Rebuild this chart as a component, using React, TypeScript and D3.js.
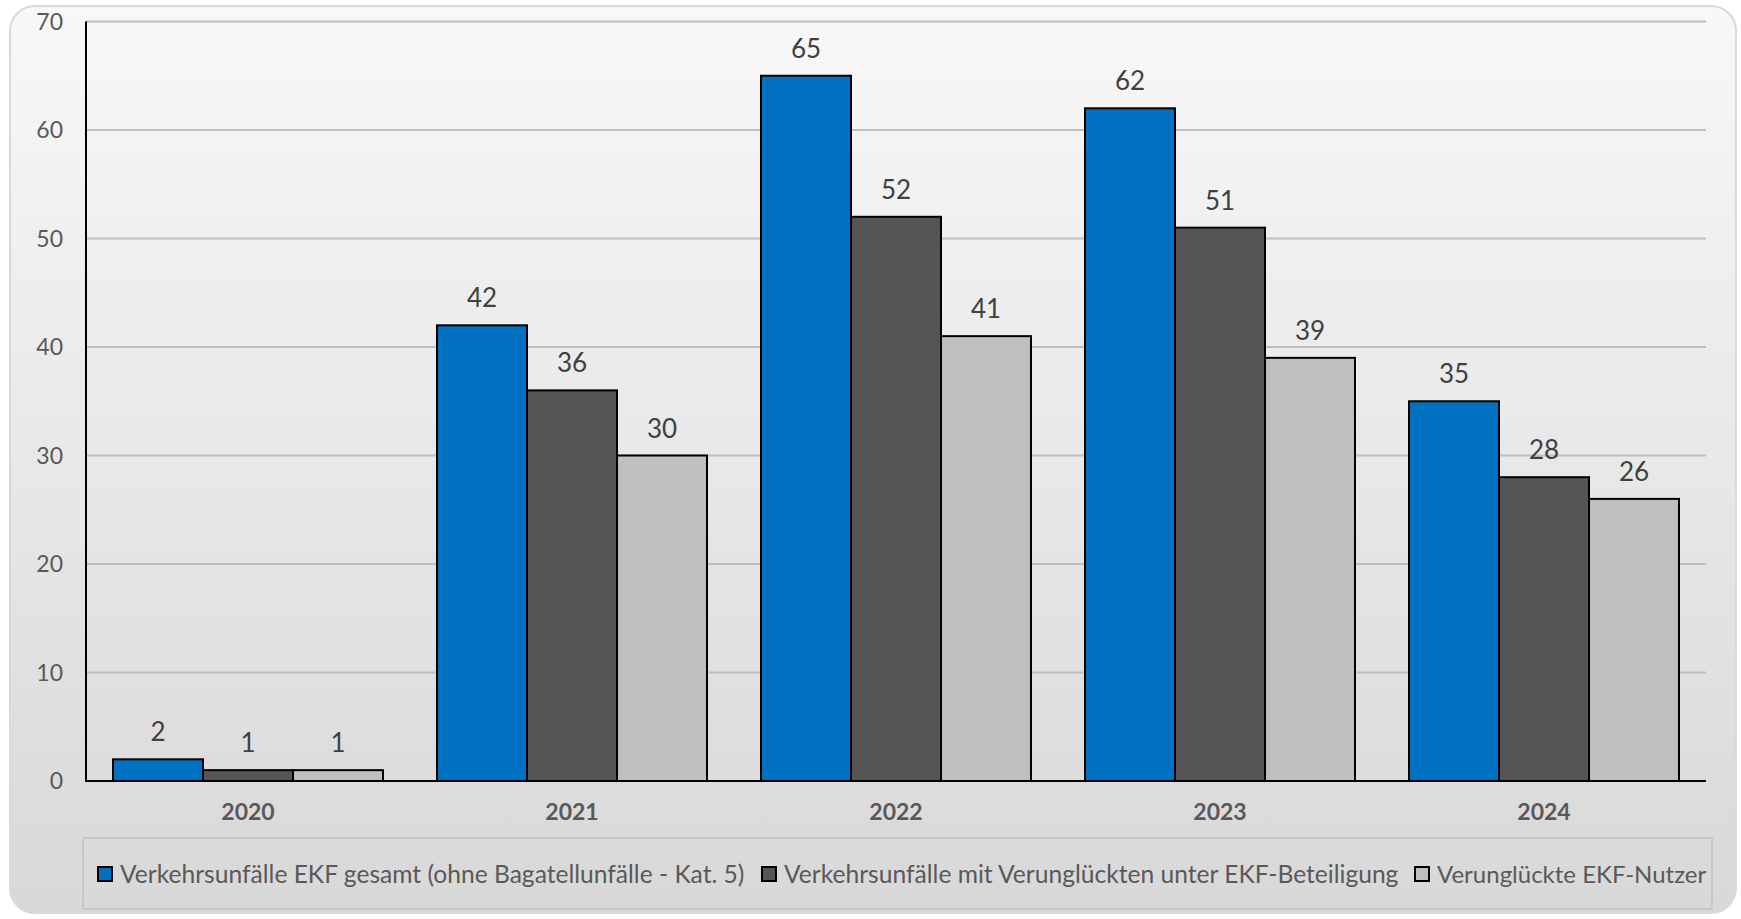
import React from "react";
import * as d3 from "d3";

const years = ["2020", "2021", "2022", "2023", "2024"];
const seriesNames = [
  "Verkehrsunfälle EKF gesamt (ohne Bagatellunfälle - Kat. 5)",
  "Verkehrsunfälle mit Verunglückten unter EKF-Beteiligung",
  "Verunglückte EKF-Nutzer",
];
const gesamt = [2, 42, 65, 62, 35];
const mitVerunglueckten = [1, 36, 52, 51, 28];
const verunglueckteNutzer = [1, 30, 41, 39, 26];
const yTicks = [0, 10, 20, 30, 40, 50, 60, 70];
const colors = ["#0070C0", "#555555", "#BFBFBF"];

const W = 1741;
const H = 919;
const FONT = "Lato, 'Open Sans', sans-serif";

export default function App() {
  const series = [gesamt, mitVerunglueckten, verunglueckteNutzer];
  const left = 86;
  const right = 1706;
  const y = d3.scaleLinear().domain([0, 70]).range([781, 21.5]);
  const x0 = d3.scaleBand<string>().domain(years).range([left, right]).paddingInner(0).paddingOuter(0);
  const inner = d3
    .scaleBand<number>()
    .domain([0, 1, 2])
    .range([x0.bandwidth() / 12, (x0.bandwidth() * 11) / 12])
    .padding(0);

  const legendX = [98, 762, 1415];
  const legendFont = [24.6, 24.6, 24];

  return (
    <svg width={W} height={H} style={{ position: "absolute", left: 0, top: 0 }} fontFamily={FONT}>
      <defs>
        <linearGradient id="bg" x1="0" y1="0" x2="0" y2="1">
          <stop offset="0" stopColor="#f8f8f8" />
          <stop offset="1" stopColor="#d8d8d8" />
        </linearGradient>
      </defs>
      <rect x={0} y={0} width={W} height={H} fill="#ffffff" />
      <rect x={10} y={6} width={1726} height={907} rx={25} ry={25} fill="url(#bg)" stroke="#d9d9d9" strokeWidth={2} />

      {/* gridlines */}
      {yTicks.map((t) =>
        t === 0 ? null : (
          <line key={t} x1={left} x2={right} y1={y(t)} y2={y(t)} stroke="#bfbfbf" strokeWidth={2} />
        )
      )}
      {/* y tick labels */}
      {yTicks.map((t) => (
        <text key={"l" + t} x={63} y={y(t)} dy="0.35em" textAnchor="end" fontSize={23} fill="#595959">
          {t}
        </text>
      ))}

      {/* bars */}
      {years.map((yr, i) => (
        <g key={yr} transform={`translate(${x0(yr)},0)`}>
          {series.map((s, k) => (
            <g key={k}>
              <rect
                x={inner(k)!}
                y={y(s[i])}
                width={inner.bandwidth()}
                height={y(0) - y(s[i])}
                fill={colors[k]}
                stroke="#000"
                strokeWidth={2}
              />
              <text
                x={inner(k)! + inner.bandwidth() / 2}
                y={y(s[i]) - 18}
                textAnchor="middle"
                fontSize={26}
                fill="#404040"
              >
                {s[i]}
              </text>
            </g>
          ))}
          <text
            x={x0.bandwidth() / 2}
            y={820}
            textAnchor="middle"
            fontSize={23}
            fontWeight="bold"
            fill="#595959"
          >
            {yr}
          </text>
        </g>
      ))}

      {/* axes */}
      <line x1={left} x2={left} y1={y(70)} y2={y(0) + 1} stroke="#000" strokeWidth={2} />
      <line x1={left} x2={right} y1={y(0)} y2={y(0)} stroke="#000" strokeWidth={2} />

      {/* legend */}
      <rect x={83} y={838} width={1629} height={71} fill="none" stroke="#c8c8c8" strokeWidth={2} />
      {seriesNames.map((n, k) => (
        <g key={n}>
          <rect x={legendX[k]} y={867} width={14} height={14} fill={colors[k]} stroke="#000" strokeWidth={2} />
          <text x={legendX[k] + 22} y={883} fontSize={legendFont[k]} fill="#595959">
            {n}
          </text>
        </g>
      ))}
    </svg>
  );
}
